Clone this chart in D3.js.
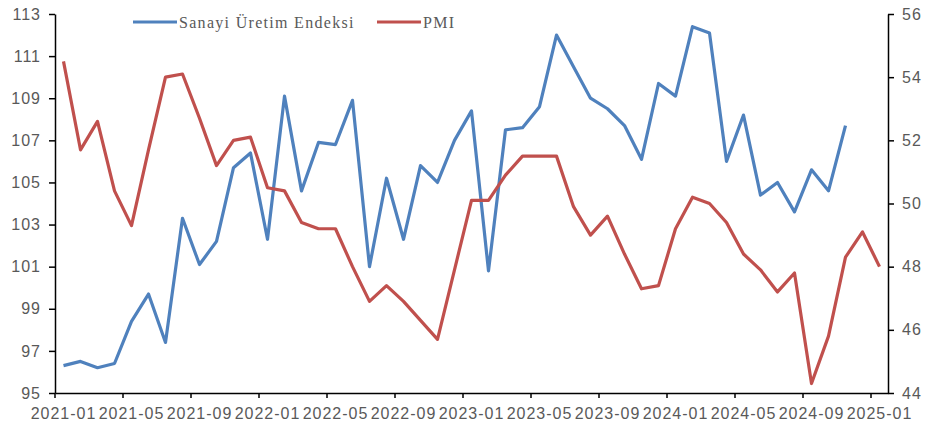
<!DOCTYPE html>
<html>
<head>
<meta charset="utf-8">
<script src="https://cdn.jsdelivr.net/npm/d3@7"></script>
<style>
    body { margin: 0; background: #fff; }
    svg { display: block; font-family: 'Liberation Serif', 'Times New Roman', serif; }
    .axis text { fill: #595959; font-size: 16px; letter-spacing: 1px; }
    .axis path, .axis line { stroke: #000; stroke-width: 1.5; }
    .legend text { fill: #595959; font-size: 16px; letter-spacing: 1.3px; }
</style>
</head>
<body>
<svg id="chart" width="943" height="430"></svg>
<script>
const months = d3.range(49).map(i => {
    const y = 2021 + Math.floor(i / 12);
    const m = (i % 12) + 1;
    return `${y}-${String(m).padStart(2, '0')}`;
});

// Sanayi Üretim Endeksi, 2021-01 .. 2024-11 (left axis)
const sanayi = [
    96.3, 96.5, 96.2, 96.4, 98.4, 99.7, 97.4, 103.3, 101.1, 102.2, 105.7, 106.4,
    102.3, 109.1, 104.6, 106.9, 106.8, 108.9, 101.0, 105.2, 102.3, 105.8, 105.0, 107.0,
    108.4, 100.8, 107.5, 107.6, 108.6, 112.0, 110.5, 109.0, 108.5, 107.7, 106.1, 109.7,
    109.1, 112.4, 112.1, 106.0, 108.2, 104.4, 105.0, 103.6, 105.6, 104.6, 107.7,
];

// PMI, 2021-01 .. 2025-01 (right axis)
const pmi = [
    54.5, 51.7, 52.6, 50.4, 49.3, 51.7, 54.0, 54.1, 52.7, 51.2, 52.0, 52.1,
    50.5, 50.4, 49.4, 49.2, 49.2, 48.0, 46.9, 47.4, 46.9, 46.3, 45.7, 47.9,
    50.1, 50.1, 50.9, 51.5, 51.5, 51.5, 49.9, 49.0, 49.6, 48.4, 47.3, 47.4,
    49.2, 50.2, 50.0, 49.4, 48.4, 47.9, 47.2, 47.8, 44.3, 45.8, 48.3, 49.1, 48.0,
];

const leftTicks = d3.range(95, 114, 2);
const rightTicks = d3.range(44, 57, 2);
const xTicks = months.filter((d, i) => i % 4 === 0);

const series = [
    { name: 'Sanayi Üretim Endeksi', values: sanayi, color: '#4f81bd', axis: 'left' },
    { name: 'PMI', values: pmi, color: '#c0504d', axis: 'right' },
];

const margin = { top: 14, right: 55, bottom: 37, left: 55 };
const width = 943;
const height = 430;

const svg = d3.select('#chart');

const x = d3.scaleBand().domain(months).range([margin.left, width - margin.right]).padding(0);
const yLeft = d3.scaleLinear().domain([95, 113]).range([height - margin.bottom, margin.top]);
const yRight = d3.scaleLinear().domain([44, 56]).range([height - margin.bottom, margin.top]);

const cx = d => x(d) + x.bandwidth() / 2;

// lines
series.forEach(s => {
    const scale = s.axis === 'left' ? yLeft : yRight;
    const line = d3.line()
        .x((d, i) => cx(months[i]))
        .y(d => scale(d));
    svg.append('path')
        .datum(s.values)
        .attr('fill', 'none')
        .attr('stroke', s.color)
        .attr('stroke-width', 3.2)
        .attr('stroke-linejoin', 'round')
        .attr('d', line);
});

// x axis: labels at band centres, ticks at band starts
const xAxis = svg.append('g')
    .attr('class', 'axis')
    .attr('transform', `translate(0,${height - margin.bottom})`)
    .call(d3.axisBottom(x).tickValues(xTicks).tickSize(0).tickSizeOuter(0).tickPadding(15));
xAxis.selectAll('.tick line').remove();
xAxis.selectAll('.tick-mark')
    .data(xTicks)
    .join('line')
    .attr('class', 'tick-mark')
    .attr('x1', d => x(d))
    .attr('x2', d => x(d))
    .attr('y1', 0)
    .attr('y2', 5);

svg.append('g')
    .attr('class', 'axis')
    .attr('transform', `translate(${margin.left},0)`)
    .call(d3.axisLeft(yLeft).tickValues(leftTicks).tickSize(6).tickSizeOuter(0).tickPadding(8));

svg.append('g')
    .attr('class', 'axis')
    .attr('transform', `translate(${width - margin.right},0)`)
    .call(d3.axisRight(yRight).tickValues(rightTicks).tickSize(6).tickSizeOuter(0).tickPadding(8));

// legend
const legend = svg.append('g').attr('class', 'legend');
const legendPos = [133, 377];
series.forEach((s, i) => {
    const g = legend.append('g').attr('transform', `translate(${legendPos[i]},22)`);
    g.append('line')
        .attr('x1', 0)
        .attr('x2', 44)
        .attr('stroke', s.color)
        .attr('stroke-width', 3);
    g.append('text')
        .attr('x', 46)
        .attr('dy', '0.35em')
        .text(s.name);
});
</script>
</body>
</html>
